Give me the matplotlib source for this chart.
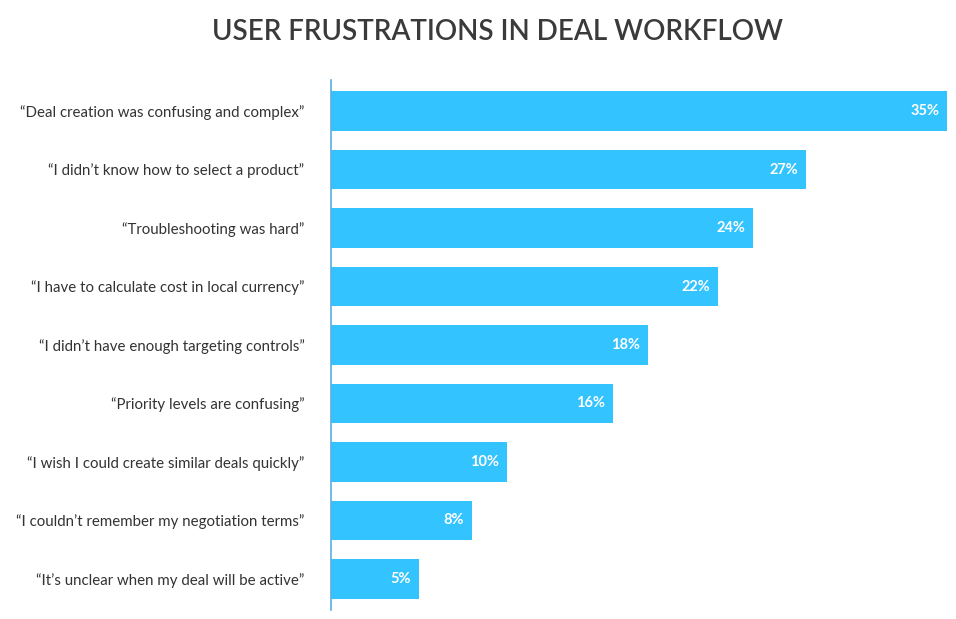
import matplotlib
matplotlib.use("Agg")
import matplotlib.pyplot as plt

plt.rcParams["font.family"] = ["Lato", "DejaVu Sans"]

labels = [
    "\u201cDeal creation was confusing and complex\u201d",
    "\u201cI didn\u2019t know how to select a product\u201d",
    "\u201cTroubleshooting was hard\u201d",
    "\u201cI have to calculate cost in local currency\u201d",
    "\u201cI didn\u2019t have enough targeting controls\u201d",
    "\u201cPriority levels are confusing\u201d",
    "\u201cI wish I could create similar deals quickly\u201d",
    "\u201cI couldn\u2019t remember my negotiation terms\u201d",
    "\u201cIt\u2019s unclear when my deal will be active\u201d",
]
values = [35, 27, 24, 22, 18, 16, 10, 8, 5]


def main():
    fig = plt.figure(figsize=(9.56, 6.19), dpi=100)
    ax = fig.add_axes([331 / 956, 1 - 610 / 619, (947 - 331) / 956, 530 / 619])

    y = list(range(len(values)))
    ax.barh(y, values, height=0.67, color="#33c3ff")
    for yi, v in zip(y, values):
        ax.text(v - 0.45, yi, f"{v}%", ha="right", va="center",
                color="white", fontsize=10.5, fontweight="bold")

    ax.set_xlim(0, 35)
    ax.set_ylim(len(values) - 0.47, -0.53)
    ax.set_yticks(y)
    ax.set_yticklabels(labels, fontsize=10.8, color="#333333")
    ax.tick_params(axis="y", length=0, pad=19)
    ax.set_xticks([])
    for s in ["top", "right", "bottom"]:
        ax.spines[s].set_visible(False)
    ax.spines["left"].set_color("#5aaee0")
    ax.spines["left"].set_linewidth(1.2)

    fig.text(497 / 956, 1 - 32 / 619, "USER FRUSTRATIONS IN DEAL WORKFLOW",
             ha="center", va="center", fontsize=20, fontweight="semibold",
             color="#3a3a3a")

    fig.savefig("out.png", dpi=100)
    plt.close(fig)


if __name__ == "__main__":
    main()
